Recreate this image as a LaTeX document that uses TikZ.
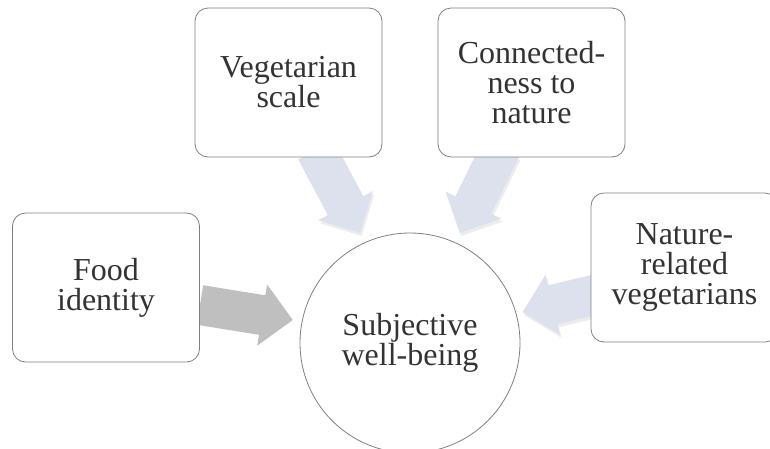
\documentclass[tikz,border=0pt]{standalone}
\usepackage{fontspec}
\setmainfont{Liberation Serif}
\definecolor{boxline}{HTML}{7F7F7F}
\definecolor{txt}{HTML}{333333}
\definecolor{lightarrow}{HTML}{DCE1ED}
\definecolor{grayarrow}{HTML}{BFBFBF}
% block arrow outline: length 94, shaft 40, head 62
\newcommand{\arrowoutline}{(0,-20) -- (63,-20) -- (63,-31) -- (94,0) -- (63,31) -- (63,20) -- (0,20) -- cycle}
% block arrow: style, start point, rotation, with a faint shadow underneath
\newcommand{\blockarrow}[4]{%
  \ifx#4s
    \fill[black, opacity=0.07, shift={(1.5,3)}, shift={#2}, rotate=#3] \arrowoutline;
  \fi
  \begin{scope}[shift={#2},rotate=#3]
    \fill[#1] \arrowoutline;
  \end{scope}}
\tikzset{
  factor/.style={draw=boxline, line width=0.8pt, fill=white, rounded corners=13pt,
    minimum width=187pt, minimum height=149pt, align=center, text=txt,
    font=\fontsize{32}{30}\selectfont, inner sep=2pt},
  outcome/.style={circle, draw=boxline, line width=0.8pt, minimum size=220pt, inner sep=0pt},
  outtext/.style={align=center, text=txt, font=\fontsize{32}{30}\selectfont}
}
\begin{document}
\begin{tikzpicture}[x=1pt,y=-1pt]
  \useasboundingbox (0,0) rectangle (770,448);
  % arrows pointing at the outcome
  \blockarrow{grayarrow}{(200,305)}{-9.2}{n}
  \blockarrow{lightarrow}{(316,150)}{-62}{s}
  \blockarrow{lightarrow}{(501,148.5)}{-116}{s}
  \blockarrow{lightarrow}{(614,290)}{-166.4}{s}
  % predictors
  \node[factor] (food) at (106,287.5) {Food\\identity};
  \node[factor] (veg) at (288.5,82.5) {Vegetarian\\scale};
  \node[factor] (conn) at (531.5,82.5) {Connected-\\ness to\\nature};
  \node[factor] (natveg) at (684.5,267.5) {Nature-\\related\\vegetarians};
  % outcome
  \node[outcome] (swb) at (410,343) {};
  \node[outtext] (swbtext) at (swb.center) {Subjective\\well-being};
\end{tikzpicture}
\end{document}
